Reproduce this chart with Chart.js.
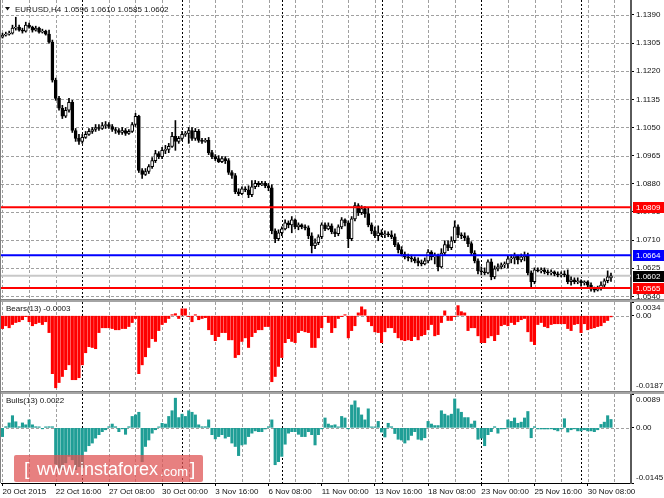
<!DOCTYPE html>
<html>
<head>
<meta charset="utf-8">
<title>EURUSD,H4</title>
<script src="https://cdn.jsdelivr.net/npm/chart.js@4.4.0/dist/chart.umd.min.js"></script>
<style>
  html, body { margin: 0; padding: 0; background: #fff; }
  #wrap { position: relative; width: 664px; height: 498px; overflow: hidden; background: #fff; }
  canvas { position: absolute; left: 0; }
  #main { top: 0; }
  #bears { top: 302px; }
  #bulls { top: 394px; }
  .sep { position: absolute; left: 0; width: 664px; height: 3px; background: #a4a4a4; border-top: 1px solid #808080; box-sizing: border-box; }
  #edge { position: absolute; left: 0; top: 0; width: 1px; height: 483px; background: #808080; }
  #logo { position: absolute; left: 14px; top: 455px; width: 189px; height: 27px; background: rgba(222, 84, 84, 0.74);
          border-radius: 2px; color: #fff; font-family: "Liberation Sans", Arial, sans-serif; }
  #logo span { position: absolute; white-space: nowrap; line-height: 1; }
  #logo .br { font-size: 19px; top: 4px; }
  #logo .www { font-size: 18px; top: 5px; left: 23px; }
  #logo .com { font-size: 13px; top: 10px; left: 146px; }
</style>
</head>
<body>
<div id="wrap">
  <canvas id="main" width="664" height="299"></canvas>
  <div class="sep" style="top:299px"></div>
  <canvas id="bears" width="664" height="89"></canvas>
  <div class="sep" style="top:391px"></div>
  <canvas id="bulls" width="664" height="104"></canvas>
  <div id="edge"></div>
  <div id="logo"><span class="br" style="left:10px">[</span><span class="www">www.instaforex</span><span class="com">.com</span><span class="br" style="left:176px">]</span></div>
</div>
<script>
// EURUSD H4, 20 Oct - 1 Dec 2015, one entry per bar
var opens = [
  1.1323,1.1329,1.1332,1.1335,1.1350,1.1353,1.1344,1.1341,1.1359,1.1353,
  1.1344,1.1350,1.1338,1.1341,1.1332,1.1308,1.1193,1.1138,1.1108,1.1084,
  1.1102,1.1126,1.1041,1.1017,1.1008,1.1020,1.1029,1.1038,1.1044,1.1050,
  1.1047,1.1056,1.1059,1.1053,1.1044,1.1041,1.1035,1.1041,1.1032,1.1038,
  1.1059,1.1084,1.0920,1.0908,1.0917,1.0932,1.0950,1.0971,1.0962,1.0981,
  1.0984,1.0993,1.1023,1.1008,1.1017,1.1029,1.1032,1.1041,1.1017,1.1038,
  1.1011,1.1008,1.1011,1.0974,1.0962,1.0956,1.0947,1.0956,1.0950,1.0914,
  1.0905,1.0856,1.0850,1.0865,1.0862,1.0847,1.0871,1.0881,1.0877,1.0881,
  1.0874,1.0868,1.0738,1.0714,1.0732,1.0744,1.0762,1.0756,1.0771,1.0750,
  1.0756,1.0750,1.0747,1.0723,1.0693,1.0702,1.0720,1.0756,1.0744,1.0753,
  1.0735,1.0729,1.0750,1.0771,1.0762,1.0714,1.0774,1.0814,1.0793,1.0805,
  1.0790,1.0756,1.0738,1.0723,1.0732,1.0726,1.0729,1.0726,1.0720,1.0696,
  1.0681,1.0668,1.0659,1.0656,1.0653,1.0647,1.0641,1.0638,1.0647,1.0674,
  1.0659,1.0662,1.0629,1.0671,1.0696,1.0687,1.0708,1.0750,1.0726,1.0723,
  1.0717,1.0699,1.0671,1.0647,1.0617,1.0614,1.0611,1.0644,1.0599,1.0623,
  1.0629,1.0635,1.0638,1.0653,1.0656,1.0662,1.0650,1.0659,1.0665,1.0611,
  1.0584,1.0620,1.0617,1.0620,1.0614,1.0611,1.0614,1.0608,1.0605,1.0608,
  1.0605,1.0584,1.0590,1.0584,1.0587,1.0581,1.0584,1.0574,1.0562,1.0559,
  1.0565,1.0574,1.0587,1.0596
];
var highs = [
  1.1335,1.1338,1.1341,1.1359,1.1383,1.1359,1.1350,1.1368,1.1365,1.1356,
  1.1356,1.1353,1.1347,1.1344,1.1344,1.1314,1.1199,1.1144,1.1117,1.1111,
  1.1138,1.1132,1.1047,1.1029,1.1029,1.1038,1.1047,1.1050,1.1059,1.1059,
  1.1065,1.1068,1.1065,1.1059,1.1050,1.1047,1.1050,1.1047,1.1044,1.1065,
  1.1093,1.1087,1.0926,1.0926,1.0938,1.0959,1.0981,1.0977,1.0990,1.0996,
  1.1002,1.1035,1.1071,1.1023,1.1038,1.1038,1.1050,1.1050,1.1047,1.1044,
  1.1017,1.1017,1.1020,1.0981,1.0968,1.0965,1.0962,1.0962,1.0956,1.0920,
  1.0911,1.0865,1.0871,1.0871,1.0874,1.0890,1.0890,1.0887,1.0887,1.0887,
  1.0881,1.0877,1.0744,1.0741,1.0750,1.0771,1.0768,1.0781,1.0774,1.0762,
  1.0759,1.0756,1.0753,1.0732,1.0714,1.0726,1.0762,1.0762,1.0762,1.0759,
  1.0744,1.0756,1.0778,1.0774,1.0768,1.0781,1.0823,1.0820,1.0814,1.0811,
  1.0808,1.0762,1.0750,1.0753,1.0741,1.0738,1.0735,1.0738,1.0729,1.0702,
  1.0690,1.0674,1.0668,1.0665,1.0659,1.0656,1.0650,1.0656,1.0681,1.0678,
  1.0671,1.0668,1.0684,1.0708,1.0708,1.0720,1.0768,1.0756,1.0732,1.0732,
  1.0723,1.0705,1.0678,1.0653,1.0629,1.0626,1.0650,1.0653,1.0632,1.0638,
  1.0641,1.0644,1.0662,1.0665,1.0671,1.0665,1.0668,1.0674,1.0671,1.0617,
  1.0626,1.0626,1.0626,1.0626,1.0620,1.0620,1.0617,1.0614,1.0614,1.0617,
  1.0620,1.0599,1.0596,1.0596,1.0590,1.0587,1.0587,1.0581,1.0568,1.0571,
  1.0584,1.0593,1.0617,1.0610
];
var lows = [
  1.1320,1.1326,1.1329,1.1332,1.1344,1.1341,1.1335,1.1338,1.1350,1.1338,
  1.1341,1.1335,1.1335,1.1329,1.1305,1.1187,1.1132,1.1102,1.1077,1.1080,
  1.1096,1.1035,1.1008,1.0999,1.1002,1.1017,1.1026,1.1032,1.1038,1.1041,
  1.1044,1.1047,1.1047,1.1038,1.1032,1.1029,1.1029,1.1026,1.1029,1.1035,
  1.1053,1.0914,1.0896,1.0905,1.0911,1.0926,1.0944,1.0956,1.0956,1.0971,
  1.0974,1.0990,1.0981,1.1002,1.1011,1.1023,1.1002,1.1011,1.1011,1.1005,
  1.1002,1.1005,1.0968,1.0956,1.0950,1.0944,1.0944,1.0941,1.0908,1.0896,
  1.0850,1.0844,1.0847,1.0856,1.0838,1.0841,1.0865,1.0871,1.0874,1.0868,
  1.0859,1.0729,1.0702,1.0708,1.0723,1.0741,1.0747,1.0732,1.0744,1.0741,
  1.0744,1.0741,1.0714,1.0671,1.0684,1.0696,1.0714,1.0738,1.0741,1.0729,
  1.0720,1.0723,1.0744,1.0753,1.0687,1.0708,1.0768,1.0784,1.0787,1.0778,
  1.0750,1.0729,1.0717,1.0708,1.0720,1.0717,1.0720,1.0714,1.0690,1.0671,
  1.0662,1.0653,1.0647,1.0644,1.0641,1.0632,1.0632,1.0635,1.0641,1.0650,
  1.0638,1.0617,1.0626,1.0665,1.0678,1.0681,1.0702,1.0717,1.0714,1.0708,
  1.0690,1.0665,1.0641,1.0608,1.0605,1.0605,1.0608,1.0590,1.0593,1.0617,
  1.0623,1.0626,1.0626,1.0641,1.0638,1.0638,1.0644,1.0647,1.0605,1.0565,
  1.0578,1.0614,1.0611,1.0608,1.0605,1.0605,1.0602,1.0599,1.0599,1.0599,
  1.0578,1.0574,1.0578,1.0578,1.0571,1.0574,1.0568,1.0556,1.0553,1.0556,
  1.0559,1.0568,1.0581,1.0585
];
var closes = [
  1.1329,1.1332,1.1335,1.1350,1.1353,1.1344,1.1341,1.1359,1.1353,1.1344,
  1.1350,1.1338,1.1341,1.1332,1.1308,1.1193,1.1138,1.1108,1.1084,1.1102,
  1.1126,1.1041,1.1017,1.1008,1.1020,1.1029,1.1038,1.1044,1.1050,1.1047,
  1.1056,1.1059,1.1053,1.1044,1.1041,1.1035,1.1041,1.1032,1.1038,1.1059,
  1.1084,1.0920,1.0908,1.0917,1.0932,1.0950,1.0971,1.0962,1.0981,1.0984,
  1.0993,1.1023,1.1008,1.1017,1.1029,1.1032,1.1041,1.1017,1.1038,1.1011,
  1.1008,1.1011,1.0974,1.0962,1.0956,1.0947,1.0956,1.0950,1.0914,1.0905,
  1.0856,1.0850,1.0865,1.0862,1.0847,1.0871,1.0881,1.0877,1.0881,1.0874,
  1.0868,1.0738,1.0714,1.0732,1.0744,1.0762,1.0756,1.0771,1.0750,1.0756,
  1.0750,1.0747,1.0723,1.0693,1.0702,1.0720,1.0756,1.0744,1.0753,1.0735,
  1.0729,1.0750,1.0771,1.0762,1.0714,1.0774,1.0814,1.0793,1.0805,1.0790,
  1.0756,1.0738,1.0723,1.0732,1.0726,1.0729,1.0726,1.0720,1.0696,1.0681,
  1.0668,1.0659,1.0656,1.0653,1.0647,1.0641,1.0638,1.0647,1.0674,1.0659,
  1.0662,1.0629,1.0671,1.0696,1.0687,1.0708,1.0750,1.0726,1.0723,1.0717,
  1.0699,1.0671,1.0647,1.0617,1.0614,1.0611,1.0644,1.0599,1.0623,1.0629,
  1.0635,1.0638,1.0653,1.0656,1.0662,1.0650,1.0659,1.0665,1.0611,1.0584,
  1.0620,1.0617,1.0620,1.0614,1.0611,1.0614,1.0608,1.0605,1.0608,1.0605,
  1.0584,1.0590,1.0584,1.0587,1.0581,1.0584,1.0574,1.0562,1.0559,1.0565,
  1.0574,1.0587,1.0599,1.0602
];
// Bears Power(13)
var bears = [
  -0.0032,-0.0025,-0.0030,-0.0022,-0.0017,-0.0015,-0.0010,-0.0002,-0.0015,-0.0025,
  -0.0020,-0.0017,-0.0022,-0.0015,-0.0042,-0.0144,-0.0179,-0.0166,-0.0151,-0.0134,
  -0.0122,-0.0159,-0.0159,-0.0154,-0.0122,-0.0092,-0.0077,-0.0079,-0.0082,-0.0042,
  -0.0030,-0.0030,-0.0030,-0.0032,-0.0035,-0.0035,-0.0032,-0.0032,-0.0027,-0.0017,
  -0.0007,-0.0144,-0.0122,-0.0102,-0.0079,-0.0057,-0.0064,-0.0037,-0.0022,-0.0017,
  -0.0007,0.0002,0.0005,-0.0007,0.0017,0.0017,-0.0002,-0.0015,0.0002,-0.0010,
  -0.0007,-0.0005,-0.0035,-0.0047,-0.0062,-0.0052,-0.0042,-0.0042,-0.0060,-0.0060,
  -0.0104,-0.0097,-0.0064,-0.0055,-0.0079,-0.0052,-0.0042,-0.0035,-0.0035,-0.0027,
  -0.0027,-0.0164,-0.0151,-0.0126,-0.0104,-0.0067,-0.0057,-0.0064,-0.0067,-0.0042,
  -0.0037,-0.0040,-0.0042,-0.0079,-0.0079,-0.0055,-0.0030,-0.0002,-0.0017,-0.0042,
  -0.0030,-0.0007,-0.0002,0.0002,-0.0055,-0.0037,-0.0025,0.0007,0.0022,0.0015,
  -0.0015,-0.0025,-0.0040,-0.0042,-0.0067,-0.0040,-0.0030,-0.0030,-0.0042,-0.0055,
  -0.0060,-0.0062,-0.0060,-0.0062,-0.0052,-0.0060,-0.0050,-0.0047,-0.0035,-0.0022,
  -0.0050,-0.0047,-0.0017,0.0012,-0.0012,-0.0012,-0.0002,0.0025,0.0010,0.0007,
  -0.0037,-0.0030,-0.0030,-0.0050,-0.0067,-0.0067,-0.0055,-0.0050,-0.0062,-0.0047,
  -0.0025,-0.0022,-0.0025,-0.0017,-0.0022,-0.0015,-0.0010,-0.0007,-0.0040,-0.0064,
  -0.0072,-0.0022,-0.0017,-0.0027,-0.0030,-0.0022,-0.0020,-0.0020,-0.0020,-0.0020,
  -0.0032,-0.0037,-0.0022,-0.0020,-0.0042,-0.0020,-0.0035,-0.0032,-0.0030,-0.0027,
  -0.0025,-0.0017,-0.0012,-0.0003
];
// Bulls Power(13)
var bulls = [
  -0.0023,0.0003,0.0013,0.0032,0.0016,0.0003,0.0013,0.0008,0.0021,0.0008,
  0.0003,0.0001,-0.0001,0.0002,0.0003,0.0003,-0.0095,-0.0106,-0.0110,-0.0092,
  -0.0075,-0.0084,-0.0110,-0.0102,-0.0105,-0.0062,-0.0047,-0.0040,-0.0027,-0.0018,
  -0.0010,-0.0005,0.0003,0.0010,0.0003,-0.0010,-0.0001,-0.0017,0.0003,0.0030,
  0.0034,0.0041,-0.0089,-0.0049,-0.0032,-0.0014,-0.0005,0.0001,0.0012,0.0010,
  0.0030,0.0045,0.0078,0.0027,0.0036,0.0030,0.0045,0.0041,0.0034,0.0008,
  0.0003,0.0003,0.0021,-0.0018,-0.0029,-0.0023,-0.0018,-0.0027,-0.0023,-0.0040,
  -0.0049,-0.0073,-0.0045,-0.0043,-0.0023,-0.0014,-0.0008,-0.0010,-0.0010,-0.0003,
  0.0003,0.0021,-0.0097,-0.0089,-0.0075,-0.0043,-0.0014,-0.0010,-0.0010,-0.0017,
  -0.0023,-0.0023,-0.0010,-0.0018,-0.0045,-0.0018,-0.0001,0.0026,0.0010,0.0006,
  0.0008,0.0001,0.0030,0.0026,-0.0001,0.0060,0.0071,0.0053,0.0034,0.0021,
  0.0050,0.0001,0.0001,0.0017,-0.0011,-0.0024,0.0012,0.0003,-0.0015,-0.0030,
  -0.0032,-0.0040,-0.0032,-0.0020,-0.0010,-0.0030,-0.0032,-0.0026,0.0017,0.0010,
  0.0006,0.0006,0.0045,0.0036,0.0032,0.0036,0.0076,0.0050,0.0041,0.0027,
  0.0027,0.0010,0.0018,-0.0030,-0.0027,-0.0047,-0.0018,-0.0010,0.0003,-0.0014,
  -0.0003,-0.0001,0.0021,0.0017,0.0026,0.0012,0.0015,0.0026,0.0043,-0.0026,
  0.0003,-0.0003,-0.0003,-0.0003,-0.0003,-0.0001,-0.0005,-0.0008,-0.0001,0.0024,
  -0.0011,-0.0005,-0.0001,-0.0008,-0.0008,-0.0005,-0.0008,-0.0008,-0.0010,-0.0005,
  0.0009,0.0015,0.0032,0.0022
];

var timeLabels = ['20 Oct 2015', '22 Oct 16:00', '27 Oct 08:00', '30 Oct 00:00', '3 Nov 16:00', '6 Nov 08:00',
                  '11 Nov 00:00', '13 Nov 16:00', '18 Nov 08:00', '23 Nov 00:00', '25 Nov 16:00', '30 Nov 08:00'];
var labelBars = [0, 16, 32, 48, 64, 80, 96, 112, 128, 144, 160, 176];
var weekBars = [24, 54, 84, 114, 144, 174];      // Monday 00:00 separators
var priceTicks = [1.1390, 1.1305, 1.1220, 1.1135, 1.1050, 1.0965, 1.0880, 1.0795, 1.0710, 1.0625, 1.0540];
var bearsTicks = [0.0034, 0, -0.0187];
var bearsTickText = ['0.0034', '0.00', '-0.0187'];
var bullsTicks = [0.0089, 0, -0.0145];
var bullsTickText = ['0.0089', '0.00', '-0.0145'];
var levels = [1.0809, 1.0664, 1.0565];
var levelColors = ['#ff0000', '#0000ff', '#ff0000'];
var symbol = 'EURUSD,H4';

var FAMILY = '"Liberation Sans", Arial, sans-serif';
var FONT = '8px ' + FAMILY;
var GRID = '#a0a0a0';
var TEXT = '#111';
var X_MIN = -0.45, X_MAX = 189.02;
var last = closes.length - 1;
var gridBars = [];
for (var g = 0; g <= 184; g += 8) if (weekBars.indexOf(g) < 0) gridBars.push(g);

Chart.defaults.font.family = FAMILY;
Chart.defaults.font.size = 8;
Chart.defaults.color = TEXT;

// dashed grid, placed with the chart's own scales, under the data
var gridLines = {
  id: 'gridLines',
  beforeDatasetsDraw: function(chart, args, opts) {
    var ctx = chart.ctx, a = chart.chartArea, xs = chart.scales.x, ys = chart.scales.y;
    ctx.save();
    ctx.lineWidth = 1;
    ctx.strokeStyle = GRID;
    ctx.setLineDash([3, 2]);
    ctx.beginPath();
    gridBars.forEach(function(v) {
      var px = Math.round(xs.getPixelForValue(v)) + 0.5;
      ctx.moveTo(px, a.top); ctx.lineTo(px, a.bottom);
    });
    opts.yLines.forEach(function(v) {
      var py = Math.round(ys.getPixelForValue(v)) + 0.5;
      ctx.moveTo(a.left, py); ctx.lineTo(a.right, py);
    });
    ctx.stroke();
    ctx.strokeStyle = '#000';
    ctx.setLineDash([2, 2]);
    ctx.beginPath();
    weekBars.forEach(function(v) {
      var px = Math.round(xs.getPixelForValue(v)) + 0.5;
      ctx.moveTo(px, a.top); ctx.lineTo(px, a.bottom);
    });
    ctx.stroke();
    ctx.restore();
  }
};

function xAxis(showLabels) {
  return {
    type: 'linear', position: 'bottom', min: X_MIN, max: X_MAX, offset: false,
    afterBuildTicks: function(s) { s.ticks = labelBars.map(function(v) { return {value: v}; }); },
    afterFit: function(s) { s.height = showLabels ? 15 : 0; s.paddingLeft = 0; s.paddingRight = 0; },
    ticks: showLabels ? {
      autoSkip: false, maxRotation: 0, minRotation: 0, align: 'start', padding: 1, color: TEXT,
      callback: function(v) { var k = labelBars.indexOf(v); return k >= 0 ? timeLabels[k] : ''; }
    } : { display: false },
    grid: { offset: false, drawOnChartArea: false, drawTicks: showLabels, tickLength: 3, tickColor: '#000' },
    border: { display: showLabels, color: '#000', width: 1 }
  };
}

function subY(min, max, tickVals) {
  return {
    type: 'linear', position: 'right', min: min, max: max,
    afterBuildTicks: function(s) { s.ticks = tickVals.map(function(v) { return {value: v}; }); },
    afterFit: function(s) { s.width = 33; s.paddingTop = 0; s.paddingBottom = 0; },
    ticks: { display: false },
    grid: { drawOnChartArea: false, tickLength: 3, tickColor: '#000' },
    border: { display: true, color: '#5a5a5a', width: 2 }
  };
}

// header, right-hand price boxes
var mainDecor = {
  id: 'mainDecor',
  afterDraw: function(chart) {
    var ctx = chart.ctx, a = chart.chartArea, y = chart.scales.y;
    ctx.save();
    ctx.font = FONT;
    ctx.textBaseline = 'middle';
    ctx.fillStyle = TEXT;
    ctx.beginPath();
    ctx.moveTo(5, 7); ctx.lineTo(10, 7); ctx.lineTo(7.5, 10.5); ctx.closePath();
    ctx.fill();
    ctx.fillText(symbol, 15, 9.5);
    var ohlc = [opens[last], highs[last], lows[last], closes[last]].map(function(v) { return v.toFixed(4); }).join(' ');
    ctx.fillText(ohlc, 64, 9.5);
    var boxes = levels.map(function(v, k) { return {v: v, c: levelColors[k]}; });
    boxes.push({v: closes[last], c: '#000'});
    boxes.forEach(function(b) {
      var py = Math.round(y.getPixelForValue(b.v));
      ctx.fillStyle = b.c;
      ctx.fillRect(a.right + 2, py - 5, chart.width - a.right - 2, 11);
      ctx.fillStyle = '#fff';
      ctx.fillText(b.v.toFixed(4), a.right + 5, py + 0.5);
    });
    ctx.restore();
  }
};

// indicator caption and right-hand scale texts
var subDecor = {
  id: 'subDecor',
  afterDraw: function(chart, args, opts) {
    var ctx = chart.ctx, a = chart.chartArea, y = chart.scales.y;
    ctx.save();
    ctx.font = FONT;
    ctx.textBaseline = 'middle';
    ctx.fillStyle = TEXT;
    ctx.fillText(opts.caption, 6, a.top + 7);
    opts.values.forEach(function(v, k) {
      var py = Math.min(Math.max(y.getPixelForValue(v), a.top + 6), a.bottom - 5);
      ctx.fillText(opts.texts[k], a.right + 5, py);
    });
    ctx.restore();
  }
};

function baseOptions(yLines) {
  return {
    responsive: false, animation: false, events: [],
    layout: { padding: { left: 1, right: 0, top: 0, bottom: 0 } },
    plugins: { legend: { display: false }, tooltip: { enabled: false }, gridLines: { yLines: yLines } }
  };
}

function flatLine(v, color, width, order) {
  return {
    type: 'line', data: [{x: X_MIN, y: v}, {x: X_MAX, y: v}],
    borderColor: color, borderWidth: width, pointRadius: 0, order: order
  };
}

// ---- price panel
var mainSets = levels.map(function(v, k) { return flatLine(v, levelColors[k], 2, 0); });
mainSets.push({
  type: 'bar', order: 1, grouped: false, barThickness: 3, minBarLength: 1,
  data: opens.map(function(o, i) { return {x: i, y: [o, closes[i]]}; }),
  backgroundColor: function(c) { var i = c.dataIndex; return closes[i] > opens[i] ? '#fff' : '#000'; },
  borderColor: '#000', borderWidth: 1, borderSkipped: false
});
mainSets.push({
  type: 'bar', order: 2, grouped: false, barThickness: 1,
  data: lows.map(function(l, i) { return {x: i, y: [l, highs[i]]}; }),
  backgroundColor: '#000', borderWidth: 0
});
mainSets.push(flatLine(closes[last], '#c8c8c8', 2, 5));

var mainOpts = baseOptions(priceTicks);
mainOpts.scales = {
  x: xAxis(false),
  y: {
    type: 'linear', position: 'right', min: 1.0532, max: 1.1435,
    afterBuildTicks: function(s) { s.ticks = priceTicks.map(function(v) { return {value: v}; }); },
    afterFit: function(s) { s.width = 33; s.paddingTop = 0; s.paddingBottom = 0; },
    ticks: { padding: 2, color: TEXT, callback: function(v) { return v.toFixed(4); } },
    grid: { drawOnChartArea: false, tickColor: '#000', tickLength: 3 },
    border: { display: true, color: '#5a5a5a', width: 2 }
  }
};
new Chart(document.getElementById('main'), {
  type: 'bar', data: { datasets: mainSets }, options: mainOpts, plugins: [gridLines, mainDecor]
});

// ---- Bears(13)
var bearsOpts = baseOptions([0]);
bearsOpts.scales = { x: xAxis(false), y: subY(-0.0187, 0.0034, bearsTicks) };
bearsOpts.plugins.subDecor = { caption: 'Bears(13) ' + bears[last].toFixed(4), values: bearsTicks, texts: bearsTickText };
new Chart(document.getElementById('bears'), {
  type: 'bar',
  data: { datasets: [{
    data: bears.map(function(v, i) { return {x: i, y: v}; }),
    backgroundColor: '#ff0000', barThickness: 2.4, grouped: false, minBarLength: 1
  }] },
  options: bearsOpts, plugins: [gridLines, subDecor]
});

// ---- Bulls(13)
var bullsOpts = baseOptions([0]);
bullsOpts.scales = { x: xAxis(true), y: subY(-0.0145, 0.0089, bullsTicks) };
bullsOpts.plugins.subDecor = { caption: 'Bulls(13) ' + bulls[last].toFixed(4), values: bullsTicks, texts: bullsTickText };
new Chart(document.getElementById('bulls'), {
  type: 'bar',
  data: { datasets: [{
    data: bulls.map(function(v, i) { return {x: i, y: v}; }),
    backgroundColor: '#1f9e96', barThickness: 2.4, grouped: false, minBarLength: 1
  }] },
  options: bullsOpts, plugins: [gridLines, subDecor]
});
</script>
</body>
</html>
